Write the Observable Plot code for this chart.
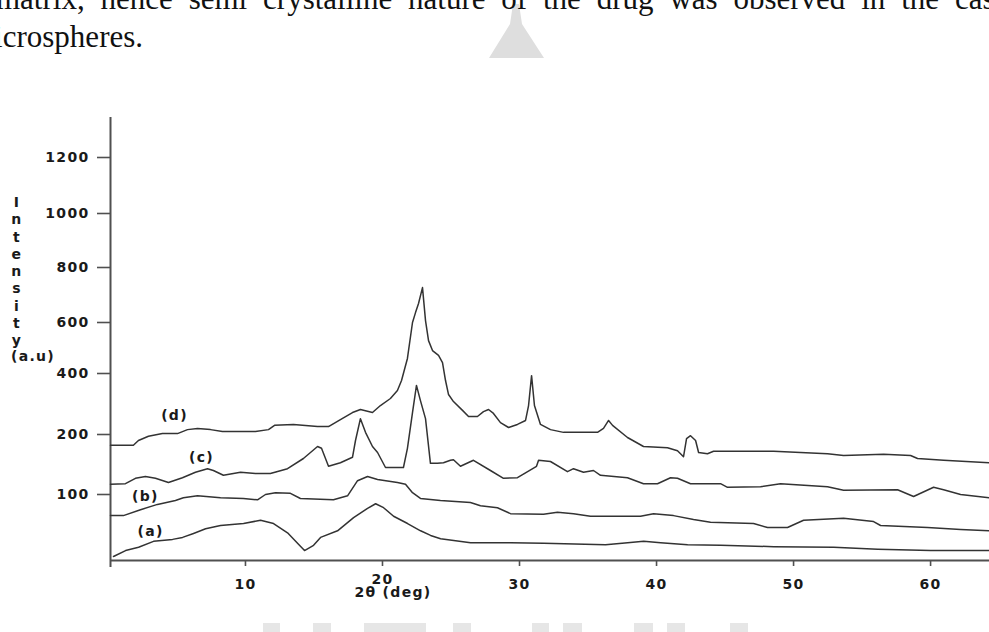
<!DOCTYPE html>
<html><head><meta charset="utf-8">
<script src="https://cdn.jsdelivr.net/npm/d3@7"></script>
<script src="https://cdn.jsdelivr.net/npm/@observablehq/plot@0.6"></script>
<style>
body{margin:0;background:#fff;}
#wrap{position:relative;width:989px;height:632px;overflow:hidden;background:#fff;}
#chart{position:absolute;left:0;top:0;}
#over{position:absolute;left:0;top:0;pointer-events:none;}
</style></head><body>
<div id="wrap"><div id="chart"></div>
<svg id="over" width="989" height="632" xmlns="http://www.w3.org/2000/svg">
  <polygon points="513,4 519,4 522,24 544,58 489,58 510,24" fill="#dedede"/>
  <g fill="#e6e6e6">
    <rect x="263" y="623" width="17" height="9"/><rect x="313" y="623" width="18" height="9"/>
    <rect x="364" y="623" width="62" height="9"/><rect x="453" y="623" width="18" height="9"/>
    <rect x="532" y="623" width="17" height="9"/><rect x="563" y="623" width="19" height="9"/>
    <rect x="634" y="623" width="19" height="9"/><rect x="667" y="623" width="18" height="9"/>
    <rect x="730" y="623" width="18" height="9"/>
  </g>
  <g font-family="Liberation Serif" font-size="31" fill="#111">
    <text x="-4" y="9" style="word-spacing:8.1px">matrix, hence semi crystalline nature of the drug was observed in the case of</text>
    <text x="-30" y="47">microspheres.</text>
  </g>
  <g font-family="DejaVu Sans" font-weight="bold" font-size="14" fill="#1a1a1a" style="letter-spacing:1.3px">
    <text id="ylab" text-anchor="middle"></text>
    <text x="11" y="361">(a.u)</text>
  </g>
</svg></div>
<script>
// x axis: 2θ in degrees
const xTicks = [10, 20, 30, 40, 50, 60];
const xLabel = "2θ (deg)";
const xLabelAt = 20;
// y axis tick labels as printed
const yTicks = [100, 200, 400, 600, 800, 1000, 1200];
const yLabel = "Intensity";
// the printed intensity axis is not evenly spaced: breakpoints (printed value -> axis height)
const yBreaks = [0, 100, 200, 400, 600, 800, 1000, 1200, 1343];
const yAxisPos = [0, 66, 126, 187, 238, 293, 347, 403, 443];

// (a)
const degA = [0.37,1.25,2.2,3.29,4.68,5.41,6.21,7.09,8.18,9.86,11.1,12.05,13.07,13.8,14.31,14.97,15.48,16.72,17.89,18.91,19.5,20.08,20.81,21.83,22.78,23.51,24.24,26.43,29.35,31.76,36.28,37.89,39.06,40.3,42.27,44.68,48.55,52.93,56.14,60.0,64.3];
const valA = [6,15,20,29,32,35,41,48,53,56,61,56,42,26,15,23,35,45,65,79,86,80,67,56,45,38,33,27,27,26,24,27,29,27,24,23,21,20,17,15,15];
// (b)
const degB = [0.15,1.09,2.34,3.58,4.89,5.47,6.5,8.18,9.85,10.88,11.46,12.19,13.28,14.01,16.42,17.45,18.18,18.91,19.64,21.09,21.68,22.19,22.77,24.23,26.42,27.15,28.39,29.34,31.75,32.77,33.94,35.18,38.83,39.78,41.24,42.7,43.94,47.08,48.1,49.56,50.73,53.65,55.84,56.35,59.78,62.19,64.3];
const valB = [68,68,77,85,91,95,98,95,94,92,100,103,102,94,92,98,123,130,125,120,117,103,94,91,88,83,80,71,70,73,71,67,67,71,68,62,58,56,50,50,61,64,59,53,50,47,45];
// (c)
const degC = [0.15,1.24,1.97,2.7,3.43,4.38,5.4,6.35,7.23,7.66,8.39,9.64,10.73,11.82,13.07,14.23,15.26,15.55,16.06,16.93,17.81,18.03,18.39,18.76,19.27,19.64,20.22,21.53,21.82,22.19,22.48,22.77,23.14,23.5,24.01,24.45,24.96,25.18,25.69,26.64,27.88,28.83,29.85,31.24,31.39,32.26,33.5,33.94,34.67,35.4,35.91,37.88,39.05,40.07,41.02,41.53,42.48,44.67,45.18,47.59,49.05,52.48,53.65,57.59,58.76,60.22,60.95,62.19,64.3];
const valC = [117,118,127,130,127,120,128,137,143,140,132,137,135,135,143,160,180,177,147,153,162,190,252,207,180,170,145,145,177,272,361,311,252,152,152,153,157,158,147,157,140,127,128,147,157,155,138,143,137,140,132,128,118,118,128,127,118,118,112,113,118,113,107,108,97,112,108,100,95];
// (d)
const degD = [0.15,1.82,2.19,2.92,3.94,5.04,5.77,6.5,7.45,8.32,10.73,11.68,12.12,13.5,15.26,16.06,16.93,17.81,18.39,19.27,19.85,20.58,21.09,21.39,21.82,22.19,22.41,22.63,22.92,23.14,23.36,23.65,24.09,24.38,24.6,24.82,25.18,25.84,26.28,26.93,27.37,27.74,28.1,28.61,29.2,29.85,30.44,30.66,30.88,31.09,31.53,32.26,33.21,35.69,36.13,36.5,36.79,37.88,39.05,40.8,41.53,41.97,42.19,42.48,42.85,43.07,43.72,44.16,48.54,52.48,53.65,56.57,58.54,59.05,60.95,64.3];
const valD = [182,182,190,197,203,203,216,220,216,210,210,216,230,233,226,226,249,272,282,272,295,318,344,377,459,600,636,669,727,607,529,490,471,443,377,331,308,279,259,259,275,282,269,239,223,233,246,295,393,295,233,216,207,207,220,246,230,195,180,178,173,163,193,198,190,170,168,172,172,168,165,167,165,160,157,153];

// curve labels
const seriesNames = ["(a)", "(b)", "(c)", "(d)"];
const labelDeg = [3.07, 2.7, 6.79, 4.82];
const labelVal = [44, 97, 162, 262];

// printed value -> axis height (piecewise linear, as on the printed axis)
const toAxis = d3.scaleLinear().domain(yBreaks).range(yAxisPos);

const toRows = (name, xs, ys) => xs.map((x, i) => ({name, x, y: toAxis(ys[i])}));
const rows = [
  ...toRows("(a)", degA, valA),
  ...toRows("(b)", degB, valB),
  ...toRows("(c)", degC, valC),
  ...toRows("(d)", degD, valD)
];
const labels = seriesNames.map((n, i) => ({n, x: labelDeg[i], y: toAxis(labelVal[i])}));

const W = 989, H = 632, ML = 110, MB = 72, MT = 117;
const xDomain = [0.15, 64.3];
const yTop = yAxisPos[yAxisPos.length - 1];
const ink = "#1a1a1a", axisInk = "#505050";

const chart = Plot.plot({
  width: W, height: H,
  marginLeft: ML, marginRight: 0, marginTop: MT, marginBottom: MB,
  style: {fontFamily: "DejaVu Sans", fontWeight: "bold", fontSize: "14px", color: ink, background: "transparent", letterSpacing: "1.3px", overflow: "visible"},
  x: {domain: xDomain, axis: null},
  y: {domain: [0, yTop], axis: null},
  marks: [
    Plot.ruleX([xDomain[0]], {y1: -7, y2: yTop, stroke: axisInk, strokeWidth: 2}),
    Plot.ruleY([0], {x1: xDomain[0], x2: xDomain[1], stroke: axisInk, strokeWidth: 2}),
    Plot.axisY(yTicks.map(v => toAxis(v)), {label: null, tickSize: 13, tickPadding: 8, tickFormat: d => String(Math.round(toAxis.invert(d))), stroke: axisInk, strokeWidth: 1.6, fill: ink}),
    Plot.axisX(xTicks.filter(t => t !== xLabelAt), {label: null, tickSize: 6, tickPadding: 13, tickFormat: d => String(d), stroke: axisInk, strokeWidth: 1.6, fill: ink}),
    Plot.axisX([xLabelAt], {label: null, tickSize: 6, tickPadding: 8, tickFormat: d => String(d), stroke: axisInk, strokeWidth: 1.6, fill: ink}),
    Plot.text([xLabel], {x: () => xLabelAt, frameAnchor: "bottom", dy: 36, dx: -28, textAnchor: "start", fill: ink, text: d => d}),
    Plot.line(rows, {x: "x", y: "y", z: "name", stroke: "#333", strokeWidth: 1.5, curve: "linear"}),
    Plot.text(labels, {x: "x", y: "y", text: "n", fill: ink})
  ]
});
document.getElementById("chart").appendChild(chart);

// stacked vertical y label
const yl = document.getElementById("ylab");
[...yLabel].forEach((ch, i) => {
  const t = document.createElementNS("http://www.w3.org/2000/svg", "tspan");
  t.setAttribute("x", 17);
  if (i === 0) t.setAttribute("y", 207); else t.setAttribute("dy", 17.25);
  t.textContent = ch;
  yl.appendChild(t);
});
</script>
</body></html>
